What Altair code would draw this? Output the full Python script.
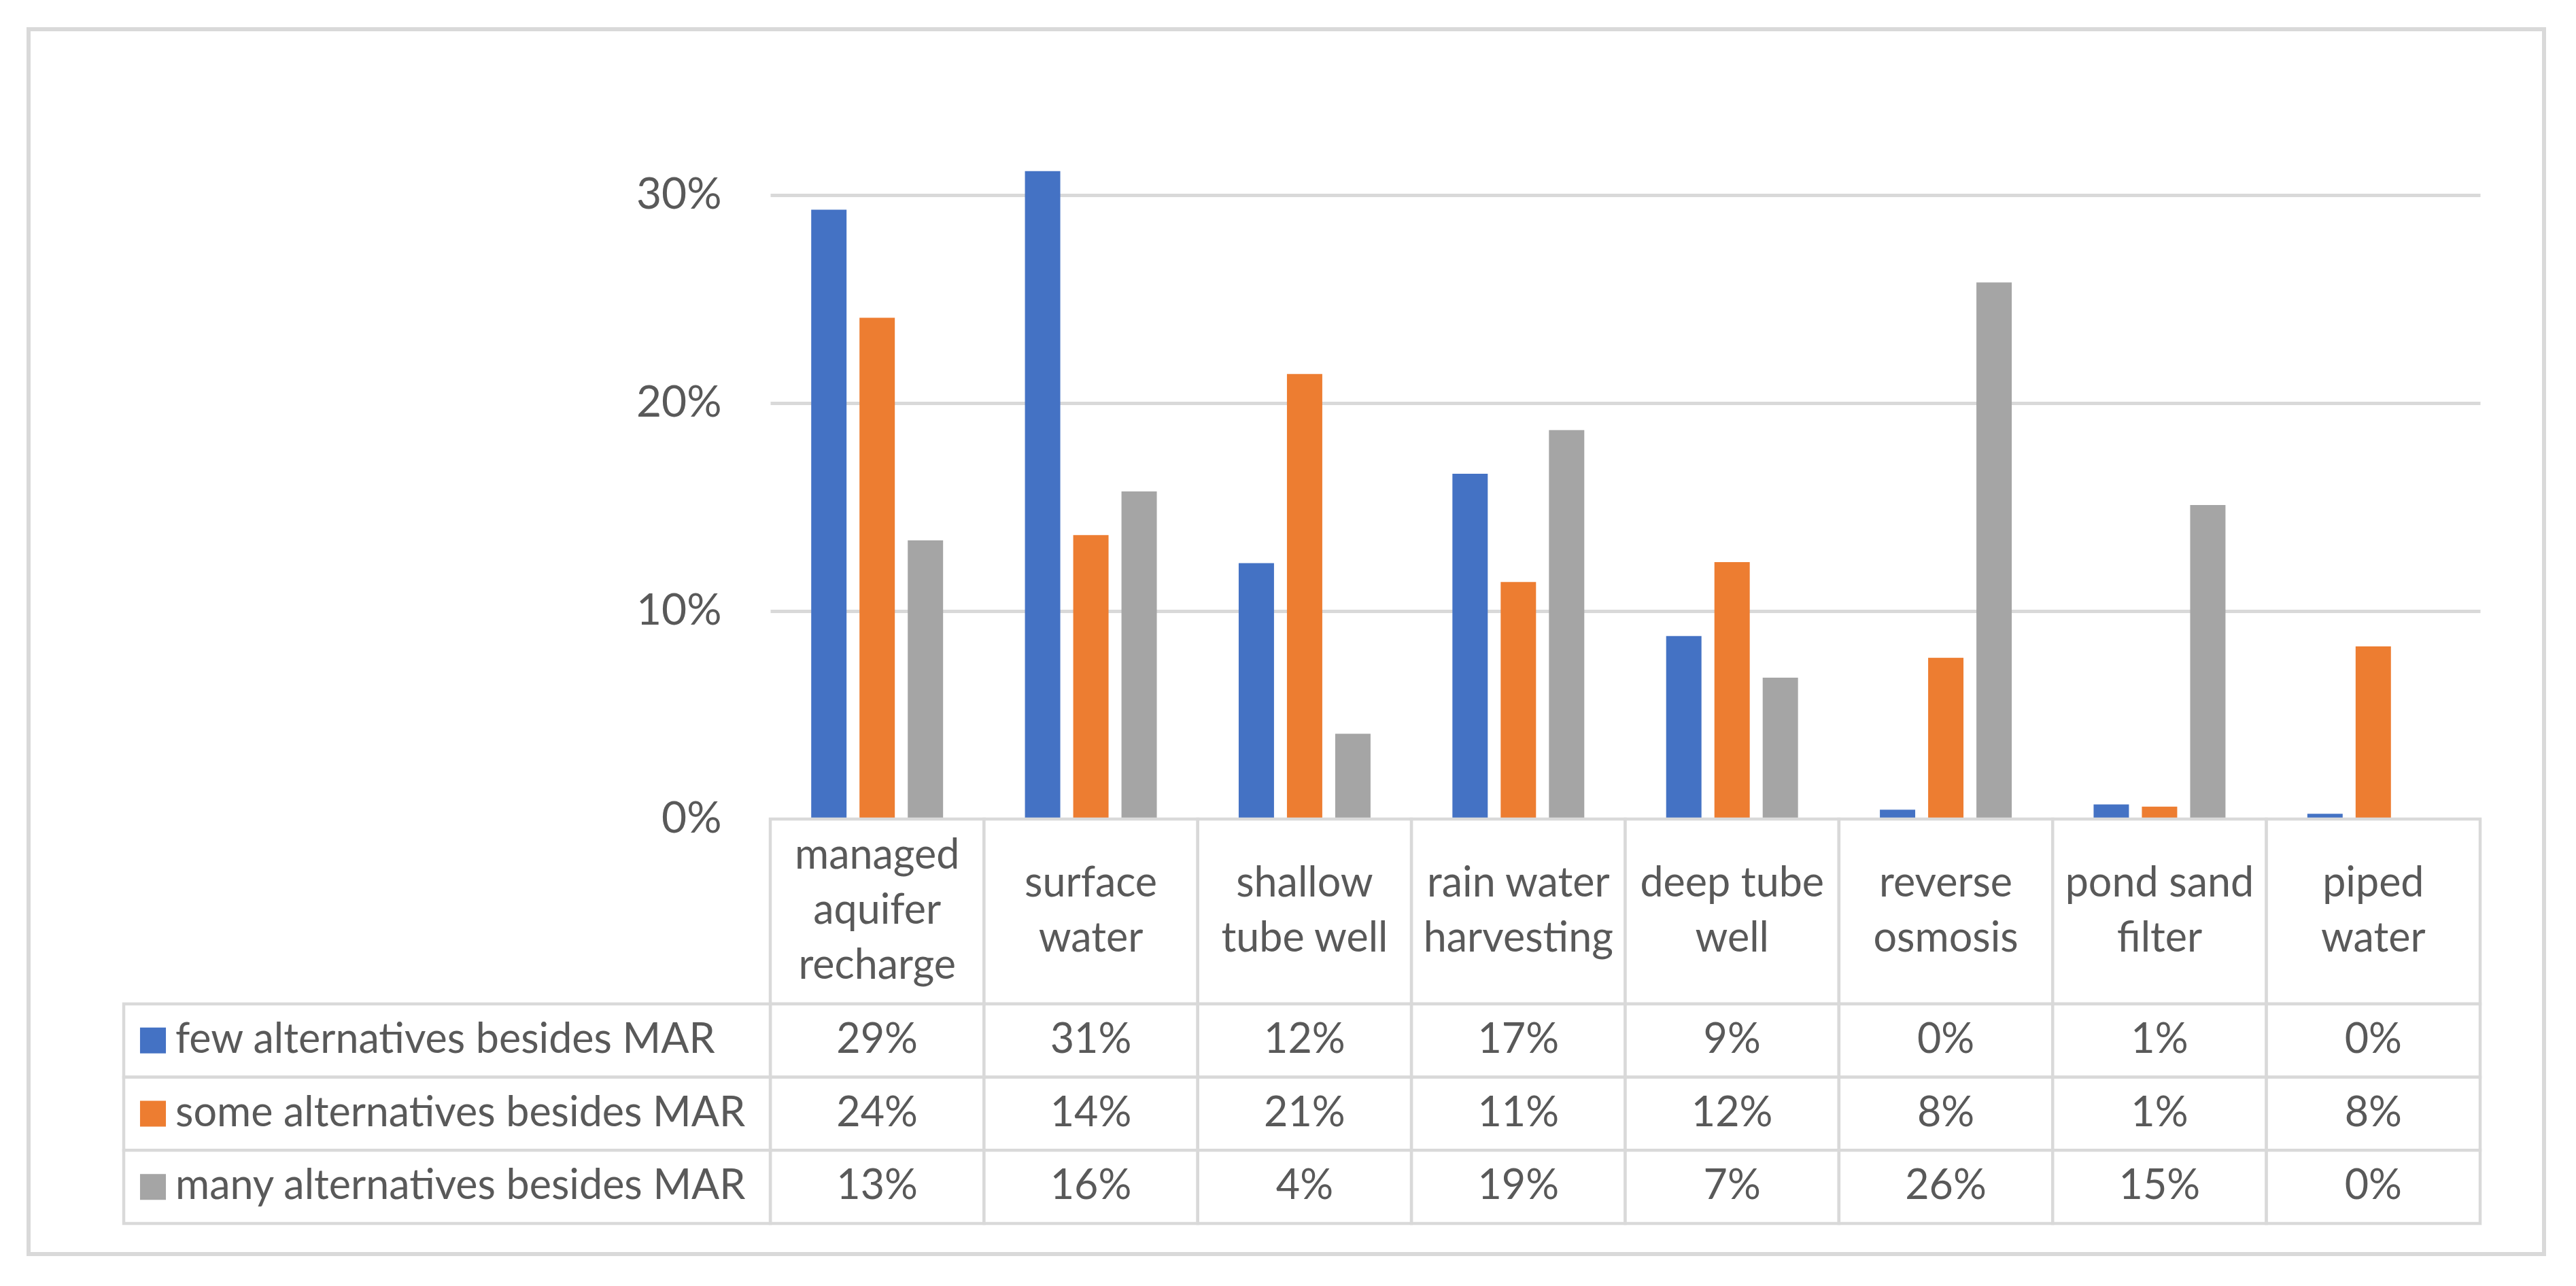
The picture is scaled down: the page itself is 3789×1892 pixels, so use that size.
import altair as alt
import pandas as pd

# ---------------- data ----------------
categories = [
    "managed aquifer recharge", "surface water", "shallow tube well",
    "rain water harvesting", "deep tube well", "reverse osmosis",
    "pond sand filter", "piped water",
]
header_labels = [
    "managed\naquifer\nrecharge", "surface\nwater", "shallow\ntube well",
    "rain water\nharvesting", "deep tube\nwell", "reverse\nosmosis",
    "pond sand\nfilter", "piped\nwater",
]
series = [
    "few alternatives besides MAR",
    "some alternatives besides MAR",
    "many alternatives besides MAR",
]
few = [0.293, 0.3115, 0.123, 0.166, 0.088, 0.0045, 0.007, 0.0025]
some = [0.241, 0.1365, 0.214, 0.114, 0.1235, 0.0775, 0.006, 0.083]
many = [0.134, 0.1575, 0.041, 0.187, 0.068, 0.258, 0.151, 0.0]
y_ticks = [0, 0.1, 0.2, 0.3]
colors = ["#4472C4", "#ED7D31", "#A5A5A5"]

rows = []
for s, vals in zip(series, [few, some, many]):
    for c, v in zip(categories, vals):
        rows.append({"category": c, "series": s, "value": v})
df = pd.DataFrame(rows)
head_df = pd.DataFrame({
    "category": categories,
    "label": header_labels,
    "nlines": [lab.count("\n") + 1 for lab in header_labels],
    "row": "header",
})
leg_df = pd.DataFrame({"series": series, "col": "legend"})

# ---------------- layout ----------------
W, H = 3700, 1802
CAT_RANGE = [1091, 3606]
LEG_RANGE = [140, 1091]
Y_RANGE = [1162, 244]
HEAD_RANGE = [1162, 1434]
ROW_RANGE = [1434, 1757]
LINE = "#d9d9d9"
TEXT = "#595959"
FS = 61
LH = 81


def xcat():
    return alt.X("category:N", sort=categories,
                 scale=alt.Scale(domain=categories, range=CAT_RANGE, paddingInner=0, paddingOuter=0),
                 axis=None)


def xleg_band():
    return alt.X("col:N", scale=alt.Scale(domain=["legend"], range=LEG_RANGE, paddingInner=0, paddingOuter=0),
                 axis=None)


def xleg_start():
    # point scale aligned to the start of the legend column
    return alt.X("col:N", scale=alt.Scale(type="point", domain=["legend"], range=LEG_RANGE,
                                          padding=0, align=0),
                 axis=None)


def yrow():
    return alt.Y("series:N", sort=series,
                 scale=alt.Scale(domain=series, range=ROW_RANGE, paddingInner=0, paddingOuter=0),
                 axis=None)


def yhead():
    return alt.Y("row:N", scale=alt.Scale(domain=["header"], range=HEAD_RANGE, paddingInner=0, paddingOuter=0),
                 axis=None)


color = alt.Color("series:N", scale=alt.Scale(domain=series, range=colors), legend=None)

bars = alt.Chart(df).mark_bar().encode(
    x=xcat(),
    xOffset=alt.XOffset("series:N", sort=series,
                        scale=alt.Scale(domain=series, paddingInner=0.268, paddingOuter=0.848)),
    y=alt.Y("value:Q",
            scale=alt.Scale(domain=[0, 0.3], range=Y_RANGE, nice=False, zero=True),
            axis=alt.Axis(values=y_ticks, format=".0%", grid=True, gridColor=LINE, gridWidth=5,
                          domain=False, ticks=False, tickSize=0, labelFontSize=64, labelColor=TEXT,
                          labelPadding=72, offset=-1091, title=None)),
    color=color,
)

head_cells = alt.Chart(head_df).mark_rect(fill="white", stroke=LINE, strokeWidth=4.5).encode(
    x=xcat(), y=yhead())


def head_text_layer(n):
    return alt.Chart(head_df).transform_filter(alt.datum.nlines == n).mark_text(
        fontSize=FS, color=TEXT, lineBreak="\n", lineHeight=LH, baseline="middle", align="center",
        dy=-(n - 1) * LH / 2,
    ).encode(x=xcat(), y=yhead(), text="label:N")


head_text3 = head_text_layer(3)
head_text2 = head_text_layer(2)

cells = alt.Chart(df).mark_rect(fill="white", stroke=LINE, strokeWidth=4.5).encode(
    x=xcat(), y=yrow())
cell_text = alt.Chart(df).mark_text(fontSize=FS, color=TEXT, baseline="middle").encode(
    x=xcat(), y=yrow(), text=alt.Text("value:Q", format=".0%"))

leg_cells = alt.Chart(leg_df).mark_rect(fill="white", stroke=LINE, strokeWidth=4.5).encode(
    x=xleg_band(), y=yrow())
leg_sw = alt.Chart(leg_df).mark_square(size=1450, opacity=1, xOffset=43).encode(
    x=xleg_start(), y=yrow(), color=color)
leg_text = alt.Chart(leg_df).mark_text(align="left", dx=76, fontSize=FS, color=TEXT,
                                       baseline="middle").encode(
    x=xleg_start(), y=yrow(), text="series:N")

chart = alt.layer(
    bars, head_cells, head_text3, head_text2, cells, cell_text, leg_cells, leg_sw, leg_text
).resolve_scale(
    x="independent", y="independent"
).properties(
    width=W, height=H,
    autosize=alt.AutoSizeParams(type="none"),
    padding={"left": 34, "top": 35, "right": 10, "bottom": 10},
).configure(
    font="Lato"
).configure_view(
    stroke=LINE, strokeWidth=6
)

chart.save("out.html", embed_options={"renderer": "svg", "actions": False})
